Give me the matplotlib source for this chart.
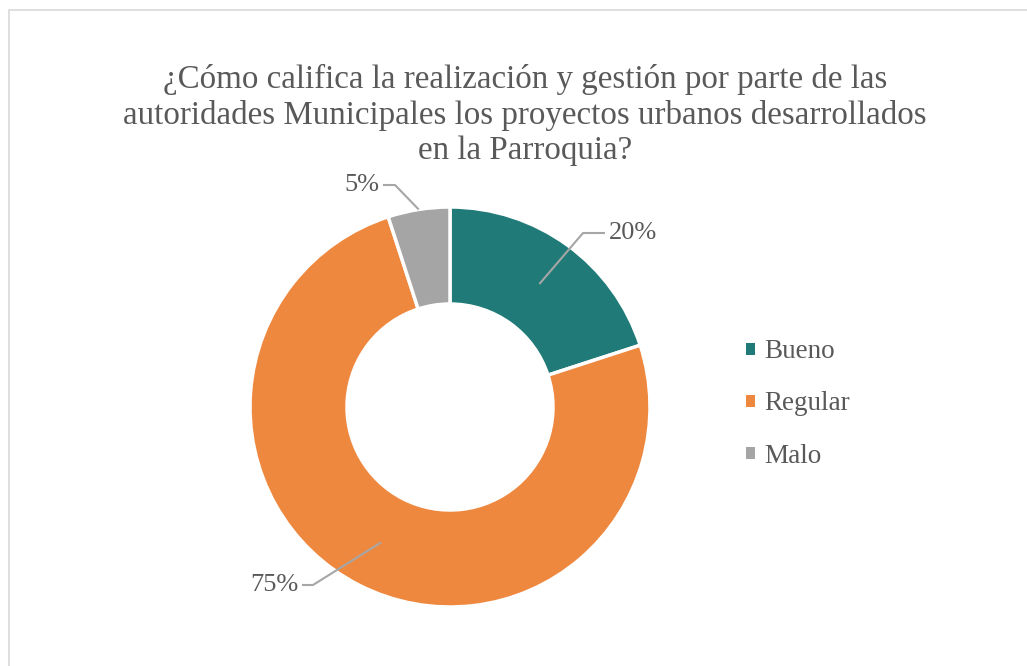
import numpy as np
import matplotlib.pyplot as plt
from matplotlib.patches import Patch, Rectangle

# datos de la encuesta
categorias = ["Bueno", "Regular", "Malo"]
porcentajes = [20, 75, 5]
colores = ["#1F7A78", "#EF883F", "#A5A5A5"]
titulo = ("¿Cómo califica la realización y gestión por parte de las\n"
          "autoridades Municipales los proyectos urbanos desarrollados\n"
          "en la Parroquia?")

# posicion de cada etiqueta: (radio de inicio, codo, texto)
etiquetas_pos = [
    (0.76, (0.665, 0.87), (0.775, 0.87), "left"),
    (0.76, (-0.685, -0.89), (-0.74, -0.89), "right"),
    (1.0, (-0.275, 1.11), (-0.335, 1.11), "right"),
]

plt.rcParams['font.family'] = ['Liberation Serif', 'DejaVu Serif']
gris_texto = "#595959"

W, H = 1027, 666
fig = plt.figure(figsize=(W / 100, H / 100), dpi=100)

# marco del grafico
fig.patches.append(Rectangle((8.5 / W, -0.05), 1.1, 1 - 9.5 / H + 0.05,
                             transform=fig.transFigure, fill=False,
                             edgecolor="#D9D9D9", linewidth=1.2))

fig.text(525 / W, 1 - 115 / H, titulo, ha="center", va="center",
         fontsize=23.8, color=gris_texto, linespacing=1.2)

cx, cy, r = 450, 407, 200
ax = fig.add_axes([(cx - r) / W, (H - cy - r) / H, 2 * r / W, 2 * r / H])
wedges, _ = ax.pie(porcentajes, colors=colores, startangle=90, counterclock=False,
                   radius=1.0, wedgeprops=dict(width=0.485, edgecolor="white", linewidth=2.5))
ax.set_xlim(-1, 1)
ax.set_ylim(-1, 1)
ax.set_aspect("equal")
ax.axis("off")

for w, val, (rad, codo, txt, ha) in zip(wedges, porcentajes, etiquetas_pos):
    ang = np.deg2rad((w.theta1 + w.theta2) / 2)
    x0, y0 = rad * np.cos(ang), rad * np.sin(ang)
    ax.plot([x0, codo[0], txt[0]], [y0, codo[1], txt[1]], color="#A6A6A6",
            linewidth=1.5, clip_on=False, solid_capstyle="butt")
    off = 0.02 if ha == "left" else -0.02
    ax.text(txt[0] + off, txt[1], f"{val}%", ha=ha, va="center",
            fontsize=19, color=gris_texto, clip_on=False)

handles = [Patch(facecolor=c, label=l) for c, l in zip(colores, categorias)]
leg = fig.legend(handles=handles, loc="center left",
                 bbox_to_anchor=(722 / W, 1 - 404 / H), frameon=False,
                 fontsize=19.5, handlelength=0.32, handleheight=0.32,
                 handletextpad=0.35, labelspacing=1.0, labelcolor=gris_texto)

fig.savefig("out.png", dpi=100, facecolor="white")
